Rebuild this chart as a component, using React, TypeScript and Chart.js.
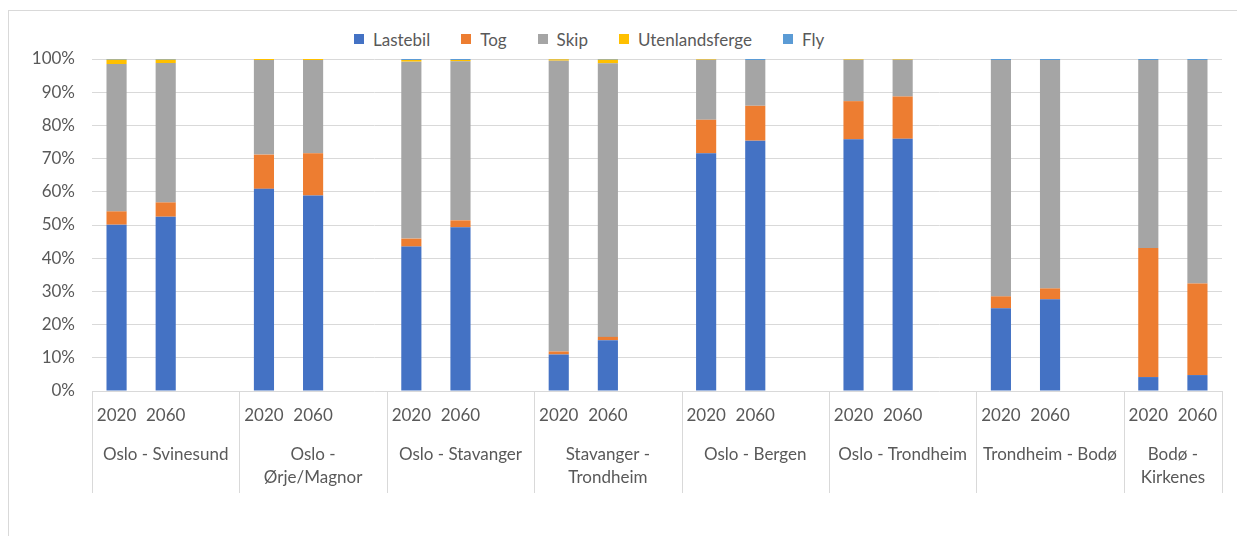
import React, { useEffect, useRef } from "react";
import { Chart, registerables } from "chart.js";

Chart.register(...registerables);

// ---- data ----
const routes: string[][] = [
  ["Oslo - Svinesund"],
  ["Oslo -", "Ørje/Magnor"],
  ["Oslo - Stavanger"],
  ["Stavanger -", "Trondheim"],
  ["Oslo - Bergen"],
  ["Oslo - Trondheim"],
  ["Trondheim - Bodø"],
  ["Bodø -", "Kirkenes"],
];
const years = ["2020", "2060"];

const lastebil = [50.1, 52.5, 60.9, 58.9, 43.5, 49.3, 11.0, 15.3, 71.6, 75.4, 75.8, 76.0, 24.9, 27.6, 4.2, 4.8];
const tog = [4.0, 4.3, 10.3, 12.7, 2.4, 2.1, 0.9, 1.0, 10.1, 10.5, 11.5, 12.7, 3.6, 3.3, 38.9, 27.6];
const skip = [44.4, 42.0, 28.5, 28.1, 53.3, 47.9, 87.6, 82.4, 18.1, 13.8, 12.5, 11.1, 71.2, 68.8, 56.6, 67.3];
const utenlandsferge = [1.3, 1.0, 0.3, 0.3, 0.5, 0.4, 0.4, 1.1, 0.2, 0.0, 0.2, 0.2, 0.0, 0.0, 0.0, 0.0];
const fly = [0.2, 0.2, 0.0, 0.0, 0.3, 0.3, 0.1, 0.2, 0.0, 0.3, 0.0, 0.0, 0.3, 0.3, 0.3, 0.3];

const seriesNames = ["Lastebil", "Tog", "Skip", "Utenlandsferge", "Fly"];
const seriesColors = ["#4472C4", "#ED7D31", "#A5A5A5", "#FFC000", "#5B9BD5"];
const yTicks = [0, 10, 20, 30, 40, 50, 60, 70, 80, 90, 100];

// ---- build slots: 2 years per route, a blank slot between routes ----
const yearLabels: string[] = [];
const groupBounds: number[] = []; // slot boundaries (in index units, -0.5 offsets)
routes.forEach((_, gi) => {
  groupBounds.push(yearLabels.length - 0.5);
  years.forEach((y) => yearLabels.push(y));
  if (gi < routes.length - 1) yearLabels.push("");
});
groupBounds.push(yearLabels.length - 0.5);
const groupCenters = routes.map((_, gi) => (groupBounds[gi] + groupBounds[gi + 1]) / 2);

const expand = (vals: number[]) => {
  const out: (number | null)[] = [];
  routes.forEach((_, gi) => {
    years.forEach((_, yi) => out.push(vals[gi * years.length + yi]));
    if (gi < routes.length - 1) out.push(null);
  });
  return out;
};
const seriesValues = [lastebil, tog, skip, utenlandsferge, fly];

const FONT = "Lato, 'Open Sans', sans-serif";
const TEXT = "#595959";
const GRID = "#d9d9d9";

const separators = {
  id: "groupSeparators",
  afterDraw(chart: any) {
    const xs = chart.scales.x2;
    const ctx = chart.ctx;
    ctx.save();
    ctx.strokeStyle = GRID;
    ctx.lineWidth = 1;
    groupBounds.forEach((b) => {
      const px = Math.round(xs.getPixelForValue(b)) + 0.5;
      ctx.beginPath();
      ctx.moveTo(px, chart.chartArea.bottom);
      ctx.lineTo(px, 493);
      ctx.stroke();
    });
    ctx.restore();
  },
};

export default function App() {
  const ref = useRef<HTMLCanvasElement | null>(null);
  useEffect(() => {
    if (!ref.current) return;
    const chart = new Chart(ref.current, {
      type: "bar",
      data: {
        labels: yearLabels,
        datasets: seriesNames.map((name, i) => ({
          label: name,
          data: expand(seriesValues[i]),
          backgroundColor: seriesColors[i],
          borderWidth: 0,
          categoryPercentage: 1,
          barPercentage: 0.41,
        })),
      },
      options: {
        responsive: false,
        animation: false,
        events: [],
        layout: { padding: { left: 0, right: 15, top: 59, bottom: 35 } },
        plugins: { legend: { display: false }, tooltip: { enabled: false } },
        scales: {
          x: {
            type: "category",
            stacked: true,
            weight: 0,
            grid: { display: false, drawTicks: false },
            border: { display: false },
            ticks: {
              autoSkip: false,
              maxRotation: 0,
              minRotation: 0,
              padding: 14,
              color: TEXT,
              font: { family: FONT, size: 17, lineHeight: 1.2 },
            },
            afterFit: (s: any) => {
              s.height = 40;
            },
          },
          x2: {
            type: "linear",
            position: "bottom",
            weight: 1,
            offset: false,
            min: -0.5,
            max: yearLabels.length - 0.5,
            afterBuildTicks: (s: any) => {
              s.ticks = groupCenters.map((v) => ({ value: v }));
            },
            grid: { display: false, drawTicks: false, offset: false },
            border: { display: false },
            ticks: {
              autoSkip: false,
              maxRotation: 0,
              minRotation: 0,
              padding: 12,
              color: TEXT,
              font: { family: FONT, size: 17, lineHeight: 1.35 },
              callback: (_v: any, i: number) => routes[i] as any,
            },
            afterFit: (s: any) => {
              s.height = 70;
            },
          },
          y: {
            stacked: true,
            min: 0,
            max: 100,
            afterBuildTicks: (s: any) => {
              s.ticks = yTicks.map((v) => ({ value: v }));
            },
            grid: { color: GRID, lineWidth: 1, drawTicks: false },
            border: { display: false },
            ticks: {
              padding: 17,
              color: TEXT,
              font: { family: FONT, size: 17 },
              callback: (v: any) => v + "%",
            },
            afterFit: (s: any) => {
              s.width = 92;
            },
          },
        },
      },
      plugins: [separators],
    });
    return () => chart.destroy();
  }, []);

  return (
    <>
      <div
        style={{
          position: "absolute",
          left: 8,
          top: 10,
          width: 1229,
          height: 526,
          boxSizing: "border-box",
          borderLeft: "1px solid " + GRID,
          borderTop: "1px solid " + GRID,
        }}
      />
      <div
        style={{
          position: "absolute",
          left: 354,
          top: 29,
          height: 20,
          display: "flex",
          alignItems: "center",
          fontFamily: FONT,
          fontSize: 17,
          color: TEXT,
          whiteSpace: "nowrap",
        }}
      >
        {seriesNames.map((n, i) => (
          <div key={n} style={{ display: "flex", alignItems: "center", marginRight: 31 }}>
            <span
              style={{ width: 10, height: 10, background: seriesColors[i], display: "inline-block", marginRight: 9 }}
            />
            <span>{n}</span>
          </div>
        ))}
      </div>
      <canvas
        ref={ref}
        width={1237}
        height={536}
        style={{ position: "absolute", left: 0, top: 0, width: 1237, height: 536, display: "block" }}
      />
    </>
  );
}
